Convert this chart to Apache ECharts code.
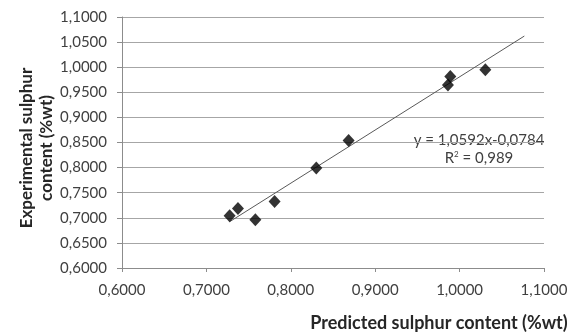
<!DOCTYPE html>
<html>
<head>
<meta charset="utf-8">
<script src="https://cdn.jsdelivr.net/npm/echarts@6/dist/echarts.min.js"></script>
<style>
  html, body { margin: 0; padding: 0; background: #ffffff; }
  #chart { width: 580px; height: 334px; }
</style>
</head>
<body>
<div id="chart"></div>
<script>
// Predicted vs. experimental sulphur content (%wt)
const predicted    = [0.7275, 0.7374, 0.7580, 0.7808, 0.8302, 0.8685, 0.9862, 0.9890, 1.0305];
const experimental = [0.7042, 0.7187, 0.6962, 0.7327, 0.7992, 0.8542, 0.9645, 0.9817, 0.9950];

// Linear fit y = a*x + b and the x-span over which it is drawn
const fitCoef  = [1.0592, -0.0784];
const fitRange = [0.7275, 1.0767];
const fitR2 = '0,989';

const fmt = v => v.toFixed(4).replace('.', ',');
const FONT = 'Lato, "Open Sans", sans-serif';

const scatterData = predicted.map((x, i) => [x, experimental[i]]);
const fitLine = fitRange.map(x => [x, fitCoef[0] * x + fitCoef[1]]);
const eqText = 'y = ' + fitCoef[0].toFixed(4).replace('.', ',') + 'x' +
  (fitCoef[1] < 0 ? '-' : '+') + Math.abs(fitCoef[1]).toFixed(4).replace('.', ',');

const chart = echarts.init(document.getElementById('chart'), null, { renderer: 'canvas' });

chart.setOption({
  animation: false,
  backgroundColor: '#ffffff',
  grid: { left: 122, right: 36, top: 17, bottom: 66, containLabel: false },
  xAxis: {
    type: 'value', min: 0.6, max: 1.1, interval: 0.1,
    axisLine: { show: true, onZero: false, lineStyle: { color: '#8c8c8c', width: 1 } },
    axisTick: { show: true, length: 4, inside: false, lineStyle: { color: '#8c8c8c' } },
    axisLabel: { margin: 15, color: '#404040', fontFamily: FONT, fontSize: 15, formatter: fmt },
    splitLine: { show: false }
  },
  yAxis: {
    type: 'value', min: 0.6, max: 1.1, interval: 0.05,
    axisLine: { show: true, onZero: false, lineStyle: { color: '#8c8c8c', width: 1 } },
    axisTick: { show: true, length: 5, inside: false, lineStyle: { color: '#8c8c8c' } },
    axisLabel: { margin: 15, color: '#404040', fontFamily: FONT, fontSize: 15, formatter: fmt },
    splitLine: { show: true, lineStyle: { color: '#a6a6a6', width: 1 } }
  },
  series: [
    {
      type: 'line',
      data: fitLine,
      showSymbol: false,
      symbol: 'none',
      lineStyle: { color: '#595959', width: 1 },
      z: 2
    },
    {
      type: 'scatter',
      data: scatterData,
      symbol: 'diamond',
      symbolSize: [12, 13],
      itemStyle: { color: '#000000' },
      z: 3
    }
  ],
  graphic: [
    {
      type: 'text',
      x: 37, y: 148,
      rotation: Math.PI / 2,
      style: {
        text: 'Experimental sulphur\ncontent (%wt)',
        fontFamily: FONT, fontSize: 17, fontWeight: 'bold',
        fill: '#262626', align: 'center', verticalAlign: 'middle', lineHeight: 20
      }
    },
    {
      type: 'text',
      x: 439, y: 323,
      style: {
        text: 'Predicted sulphur content (%wt)',
        fontFamily: FONT, fontSize: 18, fontWeight: 'bold',
        fill: '#262626', align: 'center', verticalAlign: 'middle'
      }
    },
    {
      type: 'text',
      x: 479, y: 140,
      style: {
        text: eqText,
        fontFamily: FONT, fontSize: 15,
        fill: '#404040', align: 'center', verticalAlign: 'middle'
      }
    },
    {
      type: 'text',
      x: 479, y: 158,
      style: {
        text: '{r|R}{s|2}{r| = ' + fitR2 + '}',
        rich: {
          r: { fontFamily: FONT, fontSize: 15, fill: '#404040', verticalAlign: 'middle' },
          s: { fontFamily: FONT, fontSize: 8, fill: '#404040', padding: [0, 0, 8, 0] }
        },
        align: 'center', verticalAlign: 'middle'
      }
    }
  ]
});
</script>
</body>
</html>
